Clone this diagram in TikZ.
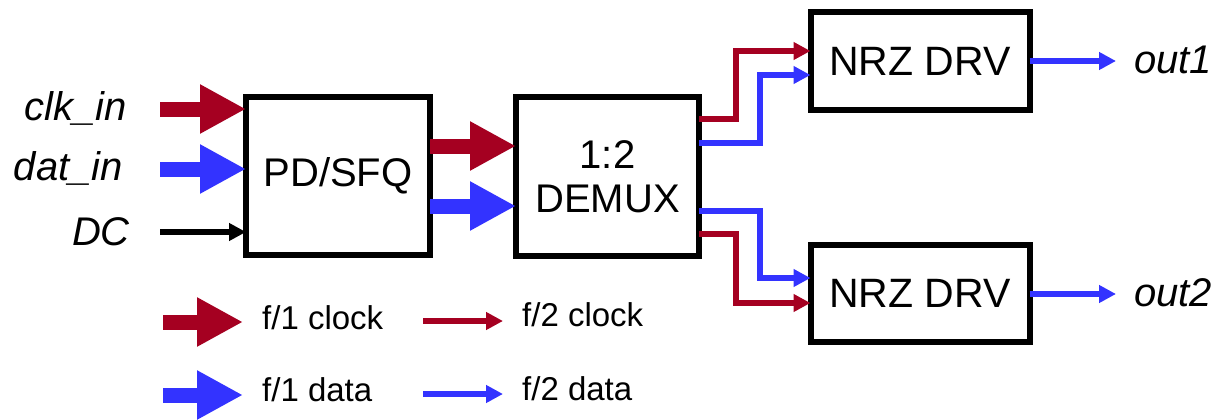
\documentclass[tikz,border=0pt]{standalone}
\usepackage{fontspec}
\setmainfont{Liberation Sans}
\usetikzlibrary{arrows.meta}
\definecolor{ckred}{RGB}{165,0,33}
\definecolor{dtblue}{RGB}{51,51,255}
\begin{document}
\begin{tikzpicture}[x=1pt,y=-1pt,
  blockbox/.style={draw=black,line width=6pt,fill=white,outer sep=0pt,inner sep=0pt,
    font=\fontsize{40}{46}\selectfont,align=center},
  lbl/.style={inner sep=0pt,font=\fontsize{40}{46}\selectfont\itshape},
  leg/.style={inner sep=0pt,anchor=west,font=\fontsize{33}{38}\selectfont},
  fatarrow/.style={line width=15pt,-{Triangle[length=46pt,width=46pt]}},
  thinarrow/.style={line width=6pt,-{Triangle[length=17pt,width=17pt]}},
  bus/.style={thinarrow,rounded corners=0pt}]
\useasboundingbox (0,0) rectangle (1229,420);
% blocks
\node[blockbox,minimum width=184pt,minimum height=158pt] (pd) at (338,176) {PD/SFQ};
\node[blockbox,minimum width=183pt,minimum height=159pt] (dm) at (607.5,176.5) {1:2\\[-2pt]DEMUX};
\node[blockbox,minimum width=219pt,minimum height=97pt,font=\fontsize{41}{46}\selectfont] (n1) at (920,61) {NRZ DRV};
\node[blockbox,minimum width=219pt,minimum height=97pt,font=\fontsize{41}{46}\selectfont] (n2) at (920,293.5) {NRZ DRV};
% input labels
\node[lbl,anchor=east] (clk) at (127,108) {clk\_in};
\node[lbl,anchor=east] (dat) at (123,168) {dat\_in};
\node[lbl,anchor=east] (dc) at (130,232) {DC};
\coordinate (clks) at (160,109);
\coordinate (dats) at (160,169);
\coordinate (dcs) at (160,232);
\draw[fatarrow,ckred] (clks) -- (clks -| pd.west);
\draw[fatarrow,dtblue] (dats) -- (dats -| pd.west);
\draw[thinarrow,black] (dcs) -- (dcs -| pd.west);
% PD -> DEMUX
\coordinate (pdc) at (pd.east |- 0,146);
\coordinate (pdd) at (pd.east |- 0,206);
\draw[fatarrow,ckred] (pdc) -- (pdc -| dm.west);
\draw[fatarrow,dtblue] (pdd) -- (pdd -| dm.west);
% DEMUX -> NRZ
\coordinate (o1c) at (dm.east |- 0,119);
\coordinate (o1d) at (dm.east |- 0,143);
\coordinate (o2d) at (dm.east |- 0,211);
\coordinate (o2c) at (dm.east |- 0,234);
\coordinate (i1c) at (n1.west |- 0,51);
\coordinate (i1d) at (n1.west |- 0,75);
\coordinate (i2d) at (n2.west |- 0,278);
\coordinate (i2c) at (n2.west |- 0,303);
\draw[thinarrow,ckred] (o1c) -| (736,85) |- (i1c);
\draw[thinarrow,dtblue] (o1d) -| (760,110) |- (i1d);
\draw[thinarrow,dtblue] (o2d) -| (760,250) |- (i2d);
\draw[thinarrow,ckred] (o2c) -| (736,270) |- (i2c);
% outputs
\coordinate (e1) at (1116,61);
\coordinate (e2) at (1116,294);
\draw[thinarrow,dtblue] (n1.east |- e1) -- (e1);
\draw[thinarrow,dtblue] (n2.east |- e2) -- (e2);
\node[lbl,anchor=west] (out1) at (1134,60) {out1};
\node[lbl,anchor=west] (out2) at (1134,293) {out2};
% legend
\coordinate (l1a) at (163,322);
\coordinate (l1b) at (243,322);
\coordinate (l2a) at (163,395);
\coordinate (l2b) at (243,395);
\coordinate (l3a) at (423,321);
\coordinate (l3b) at (503,321);
\coordinate (l4a) at (423,394);
\coordinate (l4b) at (503,394);
\draw[fatarrow,ckred] (l1a) -- (l1b);
\draw[fatarrow,dtblue] (l2a) -- (l2b);
\draw[thinarrow,ckred] (l3a) -- (l3b);
\draw[thinarrow,dtblue] (l4a) -- (l4b);
\node[leg] (t1) at (262,318) {f/1 clock};
\node[leg] (t2) at (262,390) {f/1 data};
\node[leg] (t3) at (522,315) {f/2 clock};
\node[leg] (t4) at (522,389) {f/2 data};
\end{tikzpicture}
\end{document}
